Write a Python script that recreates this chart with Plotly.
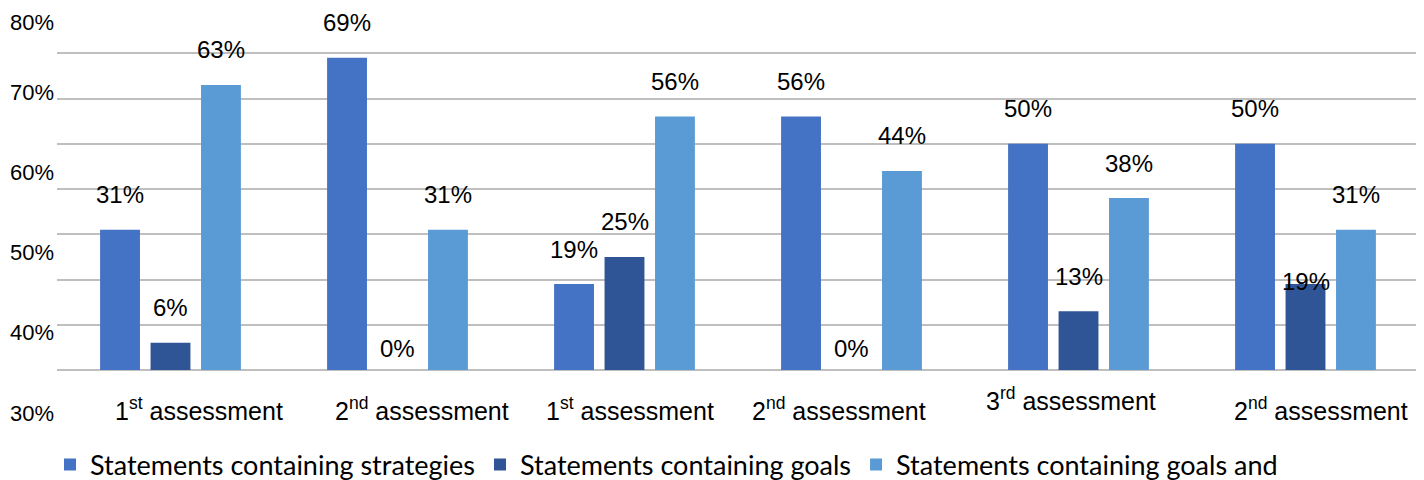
import plotly.graph_objects as go

# ---- data ----
groups = ["1<sup>st</sup> assessment", "2<sup>nd</sup> assessment", "1<sup>st</sup> assessment",
          "2<sup>nd</sup> assessment", "3<sup>rd</sup> assessment", "2<sup>nd</sup> assessment"]
series_names = ["Statements containing strategies", "Statements containing goals",
                "Statements containing goals and"]
strategies = [31, 69, 19, 56, 50, 50]
goals = [6, 0, 25, 0, 13, 19]
goals_and = [63, 31, 56, 44, 38, 31]
ytick_labels = ["80%", "70%", "60%", "50%", "40%", "30%"]

# ---- style ----
colors = ["#4472C4", "#2F5597", "#5B9BD5"]
ARIAL = "Liberation Sans, Arial, sans-serif"
series = [strategies, goals, goals_and]
x_idx = list(range(len(groups)))

# page body has an 8px offset; figure sized to the visible area
W, H = 1416, 472
ML, MR, MT, MB = 49, 5, 0, 110
plot_h = H - MT - MB

fig = go.Figure()
for name, vals, col in zip(series_names, series, colors):
    fig.add_trace(go.Bar(x=x_idx, y=vals, name=name, marker=dict(color=col, line=dict(width=0))))

annotations = []
# data labels
slot = 50.5
label_yshift_default = 35
label_yshift_override = {(1, 1): 22, (1, 3): 22, (1, 5): 3}
for si, vals in enumerate(series):
    for gi, v in enumerate(vals):
        annotations.append(dict(
            x=gi, y=v, xref="x", yref="y", text=f"{v}%", showarrow=False,
            xshift=(si - 1) * slot, yshift=label_yshift_override.get((si, gi), label_yshift_default),
            yanchor="middle", xanchor="center", font=dict(family=ARIAL, size=24, color="#000000")))

# category labels (offsets as in the reference)
label_dx = [28, 24, 5, -13, -8, 15]
label_dy = [0, 0, 0, 0, 10, 0]
for gi, g in enumerate(groups):
    annotations.append(dict(
        x=gi, y=0, xref="x", yref="y", text=g, showarrow=False,
        xshift=label_dx[gi], yshift=-39 + label_dy[gi], yanchor="middle", xanchor="center",
        font=dict(family=ARIAL, size=25, color="#000000")))

# y tick labels (placed as drawn in the reference)
for i, t in enumerate(ytick_labels):
    ypix = max(14, 4 + i * 80.2)
    annotations.append(dict(
        x=0, xref="paper", xshift=-ML, y=1 - (ypix - MT) / plot_h, yref="paper",
        text=t, showarrow=False, xanchor="left", yanchor="middle",
        font=dict(family=ARIAL, size=22, color="#000000")))

fig.update_layout(
    width=W, height=H,
    margin=dict(l=ML, r=MR, t=MT, b=MB, autoexpand=False),
    paper_bgcolor="white", plot_bgcolor="white",
    barmode="group", bargap=0.333, bargroupgap=0.21,
    xaxis=dict(range=[-0.5, 5.5], showticklabels=False, showgrid=False, zeroline=False,
               showline=False, ticks=""),
    yaxis=dict(range=[0, 80], dtick=10, showticklabels=False, showgrid=True,
               gridcolor="#BFBFBF", gridwidth=2, zeroline=True, zerolinecolor="#BFBFBF",
               zerolinewidth=2, showline=False, ticks=""),
    showlegend=True,
    legend=dict(orientation="h", x=42 / W, xanchor="left", xref="container",
                y=15 / H, yanchor="middle", yref="container",
                font=dict(family="Lato, Carlito, Calibri, sans-serif", size=27, color="#000000"),
                itemsizing="constant", traceorder="normal"),
    annotations=annotations,
)

fig.write_html("out.html")
